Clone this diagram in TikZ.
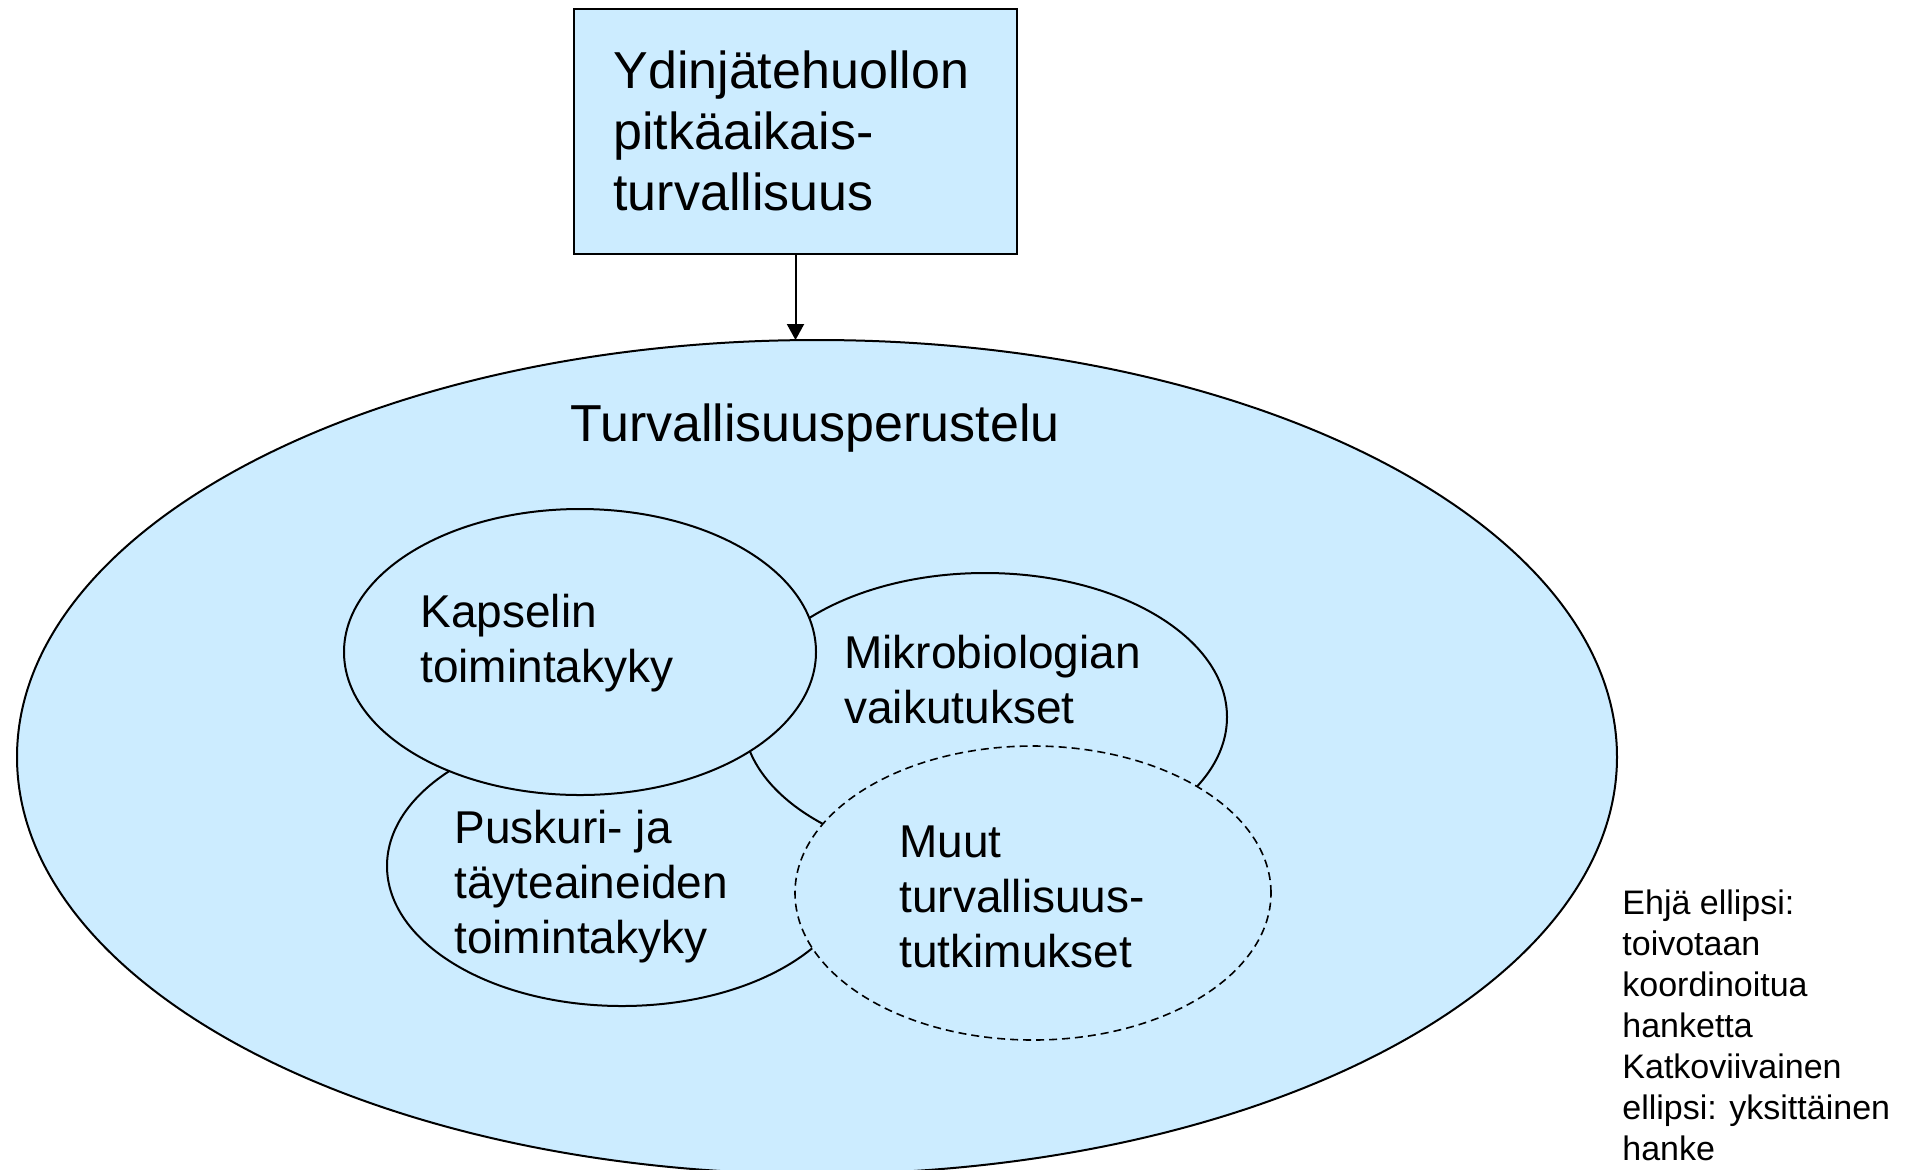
\documentclass[tikz,border=0pt]{standalone}
\usepackage{fontspec}
\setmainfont{Liberation Sans}
\usetikzlibrary{shapes.geometric,arrows.meta}
\definecolor{fillblue}{RGB}{204,236,255}
\begin{document}
\begin{tikzpicture}[x=0.5pt,y=-0.5pt,
  blob/.style={ellipse,draw=black,fill=fillblue,line width=1pt,inner sep=0pt,outer sep=0pt},
  dashblob/.style={blob,line width=0.8pt,dash pattern=on 4pt off 2.5pt},
  topbox/.style={rectangle,draw=black,fill=fillblue,line width=1pt,inner sep=0pt,outer sep=0pt},
  bigtxt/.style={font=\fontsize{26}{30.5}\selectfont,align=left,inner sep=0pt},
  midtxt/.style={font=\fontsize{23}{27.5}\selectfont,align=left,inner sep=0pt},
  smalltxt/.style={font=\fontsize{17}{20.5}\selectfont,align=left,inner sep=0pt},
  link/.style={line width=1pt,-{Triangle[length=8pt,width=8.5pt]}}
]
\useasboundingbox (0,0) rectangle (1912,1169);
% top box
\node[topbox, minimum width=221.5pt, minimum height=122.5pt] (box) at (795.5,131.5) {};
\node[bigtxt, anchor=base west] (boxtxt) at (613,210) {Ydinjätehuollon\\pitkäaikais-\\turvallisuus};
% big ellipse
\node[blob, minimum width=800pt, minimum height=417pt] (big) at (817,757) {};
\draw[link] (box.south) -- (box.south |- big.north);
\node[bigtxt, anchor=base] (bigtxt) at (815,441) {Turvallisuusperustelu};
% inner ellipses
\node[blob, minimum width=235pt, minimum height=140pt] (pus) at (622,866) {};
\node[blob, minimum width=242pt, minimum height=144pt] (mik) at (985,717) {};
\node[blob, minimum width=236pt, minimum height=143pt] (kap) at (580,652) {};
\node[dashblob, minimum width=238pt, minimum height=147pt] (muu) at (1033,893) {};
% texts
\node[midtxt, anchor=base west] (kaptxt) at (420,682) {Kapselin\\toimintakyky};
\node[midtxt, anchor=base west] (miktxt) at (844,723) {Mikrobiologian\\vaikutukset};
\node[midtxt, anchor=base west] (pustxt) at (454,953) {Puskuri- ja\\täyteaineiden\\toimintakyky};
\node[midtxt, anchor=base west] (muutxt) at (899,967) {Muut\\turvallisuus-\\tutkimukset};
% legend
\node[smalltxt, anchor=base west] (legend) at (1622,1160) {Ehjä ellipsi:\\toivotaan\\koordinoitua\\hanketta\\Katkoviivainen\\ellipsi: yksittäinen\\hanke};
\end{tikzpicture}
\end{document}
